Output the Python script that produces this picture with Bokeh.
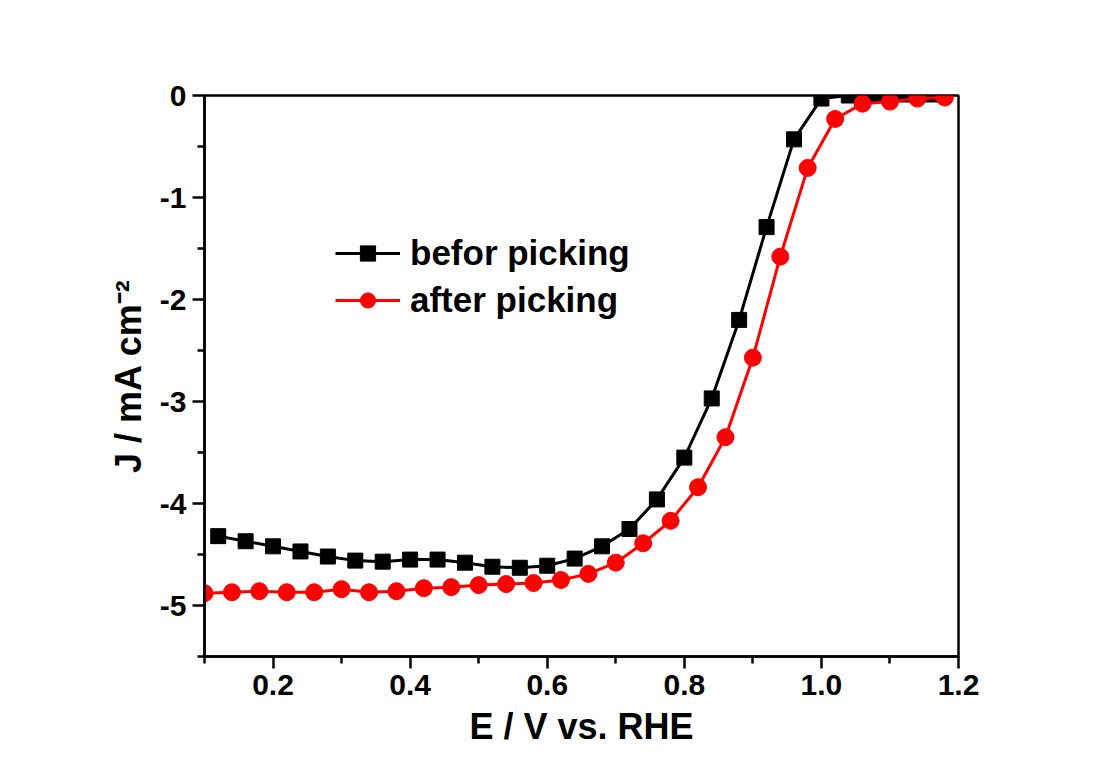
from bokeh.plotting import figure
from bokeh.models import Range1d, FixedTicker, Legend, LegendItem
from bokeh.embed import file_html
from bokeh.resources import INLINE

# ---- data ----
before_x = [0.12, 0.16, 0.20, 0.24, 0.28, 0.32, 0.36, 0.40, 0.44, 0.48, 0.52, 0.56,
            0.60, 0.64, 0.68, 0.72, 0.76, 0.80, 0.84, 0.88, 0.92, 0.96, 1.00, 1.04,
            1.08, 1.12, 1.16]
before_j = [-4.32, -4.37, -4.42, -4.47, -4.52, -4.56, -4.57, -4.55, -4.55, -4.58, -4.62, -4.63,
            -4.61, -4.54, -4.42, -4.25, -3.96, -3.55, -2.97, -2.20, -1.29, -0.43, -0.03, 0.00,
            0.01, 0.01, 0.01]

after_x = [0.10, 0.14, 0.18, 0.22, 0.26, 0.30, 0.34, 0.38, 0.42, 0.46, 0.50, 0.54, 0.58,
           0.62, 0.66, 0.70, 0.74, 0.78, 0.82, 0.86, 0.90, 0.94, 0.98, 1.02, 1.06, 1.10,
           1.14, 1.18]
after_j = [-4.88, -4.87, -4.86, -4.87, -4.87, -4.84, -4.87, -4.86, -4.83, -4.82, -4.80, -4.79, -4.78,
           -4.75, -4.69, -4.58, -4.39, -4.17, -3.84, -3.35, -2.57, -1.58, -0.71, -0.23, -0.08, -0.06,
           -0.03, -0.02]

x_ticks = [0.2, 0.4, 0.6, 0.8, 1.0, 1.2]
x_tick_labels = ["0.2", "0.4", "0.6", "0.8", "1.0", "1.2"]
x_minor = [0.1, 0.3, 0.5, 0.7, 0.9, 1.1]
y_ticks = [0, -1, -2, -3, -4, -5]
y_tick_labels = ["0", "-1", "-2", "-3", "-4", "-5"]
y_minor = [-0.5, -1.5, -2.5, -3.5, -4.5, -5.5]

series_names = ["befor picking", "after picking"]
x_title = "E / V vs. RHE"
y_title = "J / mA cm\u207b\u00b2"

FONT = "Liberation Sans"

p = figure(width=1100, height=776, output_backend="svg", toolbar_location=None,
           x_range=Range1d(0.1, 1.2), y_range=Range1d(-5.5, 0),
           min_border_left=204, min_border_right=142, min_border_top=95, min_border_bottom=120)

p.background_fill_color = "white"
p.border_fill_color = "white"
p.xgrid.visible = False
p.ygrid.visible = False
p.outline_line_color = "black"
p.outline_line_width = 2.5
p.outline_line_alpha = 1.0

for ax in (p.xaxis[0], p.yaxis[0]):
    ax.axis_line_width = 2.5
    ax.axis_line_color = "black"
    ax.major_tick_line_width = 2.5
    ax.minor_tick_line_width = 2.5
    ax.major_tick_out = 12
    ax.major_tick_in = 0
    ax.minor_tick_out = 7
    ax.minor_tick_in = 0
    ax.major_label_text_font = FONT
    ax.major_label_text_font_style = "bold"
    ax.major_label_text_font_size = "30px"
    ax.major_label_text_color = "black"
    ax.axis_label_text_font = FONT
    ax.axis_label_text_font_style = "bold"
    ax.axis_label_text_font_size = "36px"
    ax.axis_label_text_color = "black"

p.xaxis[0].ticker = FixedTicker(ticks=x_ticks, minor_ticks=x_minor)
p.xaxis[0].major_label_overrides = {t: l for t, l in zip(x_ticks, x_tick_labels)}
p.xaxis[0].major_label_standoff = 6
p.xaxis[0].axis_label = x_title
p.xaxis[0].axis_label_standoff = 8

p.yaxis[0].ticker = FixedTicker(ticks=y_ticks, minor_ticks=y_minor)
p.yaxis[0].major_label_overrides = {t: l for t, l in zip(y_ticks, y_tick_labels)}
p.yaxis[0].major_label_standoff = 6
p.yaxis[0].axis_label = y_title
p.yaxis[0].axis_label_standoff = 8

l1 = p.line(before_x, before_j, line_color="black", line_width=3)
m1 = p.scatter(before_x, before_j, marker="square", size=15, fill_color="black", line_color="black")
l2 = p.line(after_x, after_j, line_color="#ff0000", line_width=3)
m2 = p.scatter(after_x, after_j, marker="circle", size=17, fill_color="#ff0000", line_color="#ff0000")

legend = Legend(items=[LegendItem(label=series_names[0], renderers=[l1, m1]),
                       LegendItem(label=series_names[1], renderers=[l2, m2])],
                location=(131, 336), orientation="vertical",
                glyph_width=65, glyph_height=38, spacing=7, padding=0, margin=0,
                label_standoff=10, border_line_alpha=0, background_fill_alpha=0,
                label_text_font=FONT, label_text_font_style="bold",
                label_text_font_size="35px", label_text_color="black")
p.add_layout(legend)

open("out.html", "w").write(file_html(p, INLINE))
